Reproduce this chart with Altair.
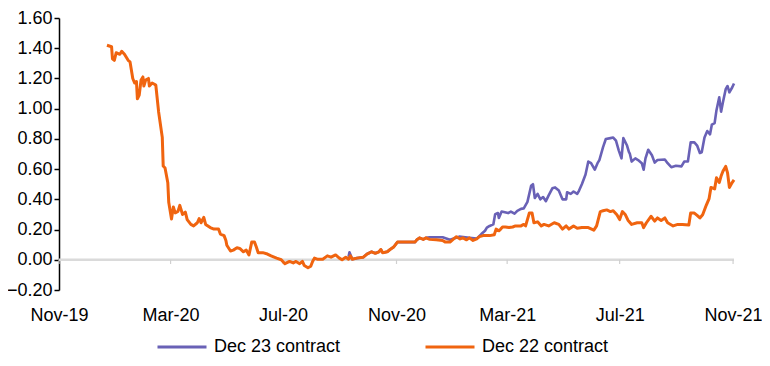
import altair as alt
import pandas as pd

# ---------------- data ----------------
dec22_dates = [
    "2019-12-23", "2019-12-28", "2019-12-29", "2019-12-31", "2020-01-02", "2020-01-06", "2020-01-08",
    "2020-01-11", "2020-01-15", "2020-01-17", "2020-01-20", "2020-01-22", "2020-01-24", "2020-01-25",
    "2020-01-27", "2020-01-29", "2020-01-31", "2020-02-01", "2020-02-03", "2020-02-06", "2020-02-07",
    "2020-02-10", "2020-02-13", "2020-02-14", "2020-02-17", "2020-02-21", "2020-02-22", "2020-02-24",
    "2020-02-27", "2020-02-28", "2020-03-02", "2020-03-04", "2020-03-06", "2020-03-09", "2020-03-11",
    "2020-03-14", "2020-03-17", "2020-03-19", "2020-03-23", "2020-03-26", "2020-03-30", "2020-04-01",
    "2020-04-03", "2020-04-06", "2020-04-08", "2020-04-13", "2020-04-17", "2020-04-22", "2020-04-24",
    "2020-04-28", "2020-04-30", "2020-05-01", "2020-05-05", "2020-05-08", "2020-05-12", "2020-05-15",
    "2020-05-19", "2020-05-22", "2020-05-25", "2020-05-28", "2020-05-31", "2020-06-02", "2020-06-04",
    "2020-06-09", "2020-06-14", "2020-06-18", "2020-06-24", "2020-06-29", "2020-07-03", "2020-07-08",
    "2020-07-12", "2020-07-15", "2020-07-19", "2020-07-22", "2020-07-24", "2020-07-28", "2020-07-31",
    "2020-08-02", "2020-08-04", "2020-08-07", "2020-08-13", "2020-08-18", "2020-08-22", "2020-08-27",
    "2020-08-31", "2020-09-03", "2020-09-07", "2020-09-10", "2020-09-12", "2020-09-14", "2020-09-19",
    "2020-09-26", "2020-09-30", "2020-10-05", "2020-10-09", "2020-10-13", "2020-10-15", "2020-10-17",
    "2020-10-22", "2020-10-25", "2020-10-29", "2020-11-02", "2020-11-21", "2020-11-23", "2020-11-26",
    "2020-11-30", "2020-12-03", "2020-12-07", "2020-12-14", "2020-12-21", "2020-12-24", "2020-12-29",
    "2021-01-02", "2021-01-05", "2021-01-09", "2021-01-12", "2021-01-16", "2021-01-19", "2021-01-23",
    "2021-01-27", "2021-01-30", "2021-02-03", "2021-02-10", "2021-02-15", "2021-02-17", "2021-02-20",
    "2021-02-22", "2021-02-24", "2021-02-27", "2021-03-03", "2021-03-07", "2021-03-10", "2021-03-16",
    "2021-03-19", "2021-03-21", "2021-03-25", "2021-03-28", "2021-03-30", "2021-04-03", "2021-04-07",
    "2021-04-10", "2021-04-15", "2021-04-21", "2021-04-26", "2021-04-30", "2021-05-04", "2021-05-07",
    "2021-05-12", "2021-05-16", "2021-05-21", "2021-05-28", "2021-06-03", "2021-06-06", "2021-06-10",
    "2021-06-13", "2021-06-17", "2021-06-21", "2021-06-24", "2021-06-28", "2021-07-01", "2021-07-04",
    "2021-07-07", "2021-07-10", "2021-07-14", "2021-07-20", "2021-07-25", "2021-07-27", "2021-07-30",
    "2021-08-04", "2021-08-08", "2021-08-11", "2021-08-15", "2021-08-19", "2021-08-22", "2021-08-28",
    "2021-09-02", "2021-09-07", "2021-09-14", "2021-09-16", "2021-09-20", "2021-09-23", "2021-09-26",
    "2021-09-29", "2021-10-03", "2021-10-06", "2021-10-08", "2021-10-12", "2021-10-14", "2021-10-17",
    "2021-10-19", "2021-10-21", "2021-10-24", "2021-10-26", "2021-10-28", "2021-10-31", "2021-11-02",
]
dec22_values = [
    1.42, 1.41, 1.33, 1.32, 1.37, 1.36, 1.38,
    1.36, 1.32, 1.31, 1.20, 1.17, 1.18, 1.065,
    1.09, 1.19, 1.21, 1.15, 1.19, 1.20, 1.15,
    1.17, 1.16, 1.155, 0.98, 0.81, 0.62, 0.607,
    0.51, 0.38, 0.27, 0.35, 0.31, 0.32, 0.36,
    0.30, 0.315, 0.266, 0.234, 0.224, 0.245, 0.273,
    0.245, 0.281, 0.234, 0.213, 0.203, 0.203, 0.17,
    0.16, 0.128, 0.096, 0.058, 0.064, 0.079, 0.075,
    0.053, 0.064, 0.032, 0.117, 0.117, 0.085, 0.047,
    0.047, 0.038, 0.026, 0.011, 0.0, -0.026, -0.011,
    -0.021, -0.011, -0.026, -0.011, -0.038, -0.053, -0.043,
    -0.011, 0.011, 0.004, 0.004, 0.026, 0.017, 0.032,
    0.011, 0.0, 0.017, 0.004, 0.026, 0.004, 0.011,
    0.017, 0.038, 0.053, 0.043, 0.053, 0.068, 0.047,
    0.053, 0.068, 0.085, 0.117, 0.117, 0.132, 0.145,
    0.135, 0.145, 0.135, 0.132, 0.128, 0.117, 0.117,
    0.138, 0.153, 0.138, 0.145, 0.132, 0.145, 0.128,
    0.138, 0.153, 0.16, 0.16, 0.166, 0.203, 0.192,
    0.203, 0.217, 0.217, 0.213, 0.217, 0.224, 0.224,
    0.234, 0.224, 0.309, 0.309, 0.245, 0.251, 0.224,
    0.234, 0.224, 0.245, 0.234, 0.203, 0.224, 0.203,
    0.224, 0.209, 0.213, 0.213, 0.196, 0.224, 0.319,
    0.324, 0.33, 0.319, 0.324, 0.298, 0.266, 0.319,
    0.30, 0.262, 0.234, 0.245, 0.245, 0.213, 0.245,
    0.288, 0.256, 0.277, 0.26, 0.277, 0.245, 0.224,
    0.234, 0.234, 0.23, 0.309, 0.309, 0.294, 0.277,
    0.298, 0.362, 0.405, 0.479, 0.469, 0.543, 0.511,
    0.554, 0.586, 0.618, 0.575, 0.479, 0.511, 0.528,
]

dec23_dates = [
    "2020-09-10", "2020-09-11", "2020-09-14", "2020-09-19", "2020-09-26", "2020-09-30", "2020-10-05",
    "2020-10-09", "2020-10-13", "2020-10-15", "2020-10-17", "2020-10-22", "2020-10-25", "2020-10-29",
    "2020-11-02", "2020-11-21", "2020-11-23", "2020-11-26", "2020-11-30", "2020-12-03", "2020-12-07",
    "2020-12-21", "2020-12-29", "2021-01-08", "2021-01-19", "2021-01-27", "2021-02-01", "2021-02-05",
    "2021-02-07", "2021-02-10", "2021-02-14", "2021-02-16", "2021-02-19", "2021-02-20", "2021-02-23",
    "2021-03-02", "2021-03-05", "2021-03-09", "2021-03-12", "2021-03-16", "2021-03-19", "2021-03-23",
    "2021-03-27", "2021-03-29", "2021-03-31", "2021-04-03", "2021-04-06", "2021-04-09", "2021-04-12",
    "2021-04-15", "2021-04-19", "2021-04-22", "2021-04-26", "2021-04-30", "2021-05-04", "2021-05-05",
    "2021-05-09", "2021-05-12", "2021-05-16", "2021-05-18", "2021-05-21", "2021-05-25", "2021-05-28",
    "2021-05-31", "2021-06-04", "2021-06-07", "2021-06-09", "2021-06-13", "2021-06-16", "2021-06-21",
    "2021-06-24", "2021-06-27", "2021-06-30", "2021-07-03", "2021-07-05", "2021-07-09", "2021-07-11",
    "2021-07-12", "2021-07-14", "2021-07-18", "2021-07-21", "2021-07-25", "2021-07-27", "2021-07-29",
    "2021-08-01", "2021-08-05", "2021-08-08", "2021-08-11", "2021-08-19", "2021-08-22", "2021-08-26",
    "2021-08-31", "2021-09-06", "2021-09-09", "2021-09-13", "2021-09-16", "2021-09-20", "2021-09-23",
    "2021-09-26", "2021-09-28", "2021-10-01", "2021-10-04", "2021-10-07", "2021-10-09", "2021-10-12",
    "2021-10-14", "2021-10-17", "2021-10-19", "2021-10-21", "2021-10-24", "2021-10-26", "2021-10-28",
    "2021-10-31", "2021-11-02",
]
dec23_values = [
    0.02, 0.05, 0.004, 0.011, 0.017, 0.038, 0.053,
    0.043, 0.053, 0.068, 0.047, 0.053, 0.068, 0.085,
    0.117, 0.117, 0.132, 0.145, 0.135, 0.145, 0.149,
    0.149, 0.132, 0.153, 0.145, 0.14, 0.17, 0.192,
    0.213, 0.224, 0.234, 0.302, 0.309, 0.277, 0.319,
    0.309, 0.319, 0.305, 0.324, 0.337, 0.34, 0.383,
    0.49, 0.50, 0.409, 0.436, 0.40, 0.415, 0.388,
    0.426, 0.473, 0.479, 0.458, 0.40, 0.40, 0.447,
    0.436, 0.452, 0.436, 0.458, 0.50, 0.564, 0.65,
    0.639, 0.596, 0.639, 0.66, 0.745, 0.799, 0.805,
    0.809, 0.788, 0.724, 0.671, 0.805, 0.756, 0.714,
    0.703, 0.65, 0.671, 0.66, 0.639, 0.596, 0.671,
    0.728, 0.692, 0.643, 0.66, 0.664, 0.639, 0.613,
    0.622, 0.618, 0.65, 0.65, 0.777, 0.777, 0.756,
    0.707, 0.712, 0.809, 0.852, 0.83, 0.895, 0.905,
    0.99, 1.075, 0.98, 1.043, 1.129, 1.15, 1.108,
    1.14, 1.167,
]

series_names = ["Dec 23 contract", "Dec 22 contract"]
series_colors = ["#6961B6", "#F0640F"]
x_tick_dates = ["2019-11-01", "2020-03-01", "2020-07-01", "2020-11-01", "2021-03-01", "2021-07-01", "2021-11-01"]
y_tick_values = [-0.2, 0.0, 0.2, 0.4, 0.6, 0.8, 1.0, 1.2, 1.4, 1.6]

# ---------------- tables ----------------
df22 = pd.DataFrame({"date": dec22_dates, "value": dec22_values, "series": series_names[1]})
df23 = pd.DataFrame({"date": dec23_dates, "value": dec23_values, "series": series_names[0]})
ticks_df = pd.DataFrame({"date": x_tick_dates, "value": [0.0] * len(x_tick_dates), "low": [-0.028] * len(x_tick_dates)})
zero_df = pd.DataFrame({"value": [0.0]})

FONT = "Liberation Sans"


def dt(s):
    y, m, d = (int(p) for p in s.split("-"))
    return alt.DateTime(year=y, month=m, date=d, utc=True)


x_scale = alt.Scale(type="utc", domain=[dt("2019-11-01"), dt("2021-11-02")])
y_scale = alt.Scale(domain=[-0.2, 1.6], nice=False, zero=False)

color = alt.Color(
    "series:N",
    scale=alt.Scale(domain=series_names, range=series_colors),
    legend=alt.Legend(
        title=None,
        orient="none",
        legendX=97,
        legendY=303,
        direction="horizontal",
        symbolType="stroke",
        symbolSize=2401,
        symbolStrokeWidth=3,
        labelFontSize=18,
        labelFont=FONT,
        labelColor="#000000",
        labelOffset=6,
        columnPadding=78,
        padding=0,
    ),
)

x_axis = alt.Axis(
    values=[dt(s) for s in x_tick_dates],
    format="%b-%y",
    domain=False,
    ticks=False,
    tickSize=0,
    grid=False,
    title=None,
    labelFlush=False,
    labelPadding=16,
    labelFontSize=18,
    labelFont=FONT,
    labelColor="#000000",
)
y_axis = alt.Axis(
    values=y_tick_values,
    format=".2f",
    grid=False,
    title=None,
    domainColor="#000000",
    domainWidth=1.5,
    tickColor="#000000",
    tickWidth=1.5,
    tickSize=5,
    labelPadding=2,
    labelFontSize=18,
    labelFont=FONT,
    labelColor="#000000",
)

x_enc = alt.X("date:T", scale=x_scale, axis=x_axis)
y_enc = alt.Y("value:Q", scale=y_scale, axis=y_axis)

zero_line = alt.Chart(zero_df).mark_rule(color="#DADADA", strokeWidth=2.5).encode(y=y_enc)

x_ticks = alt.Chart(ticks_df).mark_rule(color="#D0D0D0", strokeWidth=1.2).encode(
    x=x_enc, y=y_enc, y2="low:Q"
)

line23 = alt.Chart(df23).mark_line(strokeWidth=2.6, strokeJoin="round").encode(
    x=x_enc, y=y_enc, color=color
)
line22 = alt.Chart(df22).mark_line(strokeWidth=3, strokeJoin="round").encode(
    x=x_enc, y=y_enc, color=color
)

chart = (
    alt.layer(zero_line, x_ticks, line23, line22)
    .properties(
        width=675,
        height=272,
        autosize=alt.AutoSizeParams(type="none"),
        padding={"left": 51, "top": 10, "right": 28, "bottom": 68},
    )
    .configure(font=FONT)
    .configure_view(stroke=None)
)

chart.save("out.html", embed_options={"renderer": "svg", "actions": False})
